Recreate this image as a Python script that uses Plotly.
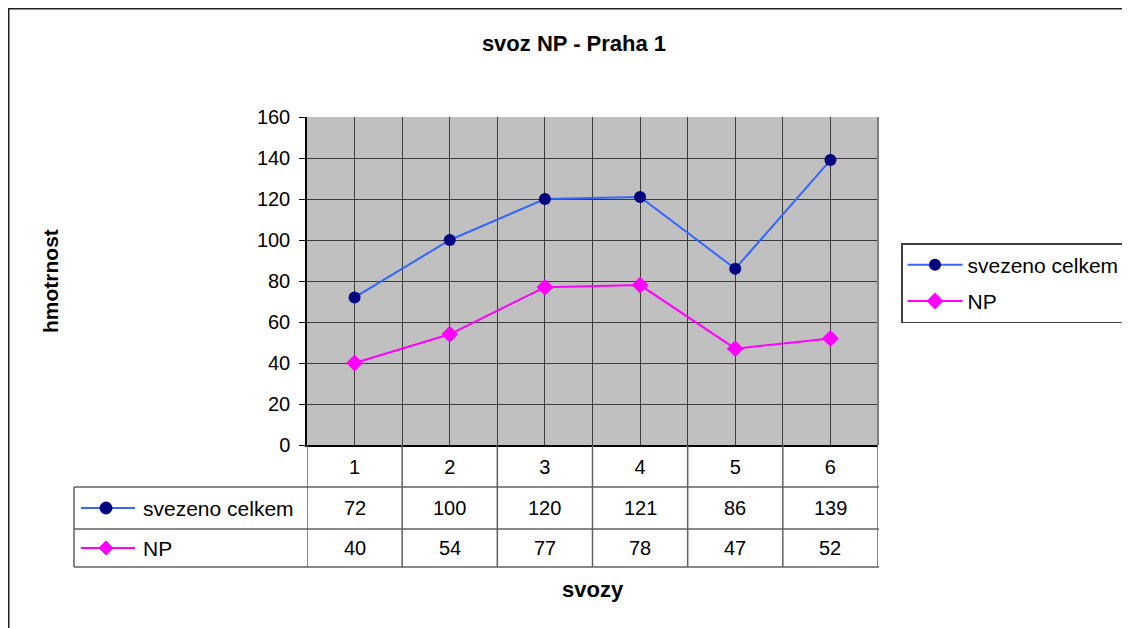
import plotly.graph_objects as go

# ---- data ----
categories = [1, 2, 3, 4, 5, 6]
series_names = ["svezeno celkem", "NP"]
svezeno_celkem = [72, 100, 120, 121, 86, 139]
np_values = [40, 54, 77, 78, 47, 52]
y_ticks = [0, 20, 40, 60, 80, 100, 120, 140, 160]

W, H = 1130, 628
OFF = 8  # page body margin offset
FONT = "Liberation Sans, Arial, sans-serif"

def px(x):
    return (x - OFF) / W

def py(y):
    return 1 - (y - OFF) / H

# plot area in screen pixels
PL, PR, PT, PB = 307, 878, 117, 445

BLUE_LINE = "#3366FF"
NAVY = "#000080"
MAGENTA = "#FF00FF"
GRID = "#3a3a3a"
TABLE = "#606060"

fig = go.Figure()
fig.add_trace(go.Scatter(
    x=categories, y=svezeno_celkem, name=series_names[0], mode="lines+markers",
    line=dict(color=BLUE_LINE, width=2),
    marker=dict(color=NAVY, size=12, symbol="circle"),
    legendgroup="a",
))
fig.add_trace(go.Scatter(
    x=categories, y=np_values, name=series_names[1], mode="lines+markers",
    line=dict(color=MAGENTA, width=2),
    marker=dict(color=MAGENTA, size=13, symbol="diamond"),
    legendgroup="b",
))

shapes = []
annotations = []

# outer chart border
shapes.append(dict(type="rect", xref="paper", yref="paper",
                   x0=px(8.75), x1=px(1160), y0=py(8.75), y1=py(660),
                   line=dict(color="#202020", width=1.5), fillcolor="rgba(0,0,0,0)", layer="below"))

# right border of plot area
shapes.append(dict(type="line", xref="paper", yref="paper",
                   x0=px(PR), x1=px(PR), y0=py(PT), y1=py(PB),
                   line=dict(color="#808080", width=2)))

# data table lines
row_lines = [487, 529, 567]
for ry in row_lines:
    shapes.append(dict(type="line", xref="paper", yref="paper",
                       x0=px(74), x1=px(PR + 1), y0=py(ry), y1=py(ry),
                       line=dict(color=TABLE, width=1.5)))
bounds = [c - 0.5 for c in categories] + [categories[-1] + 0.5]
for b in bounds:
    shapes.append(dict(type="line", xref="x", yref="paper",
                       x0=b, x1=b, y0=py(PB), y1=py(567),
                       line=dict(color=TABLE, width=1.5)))
shapes.append(dict(type="line", xref="paper", yref="paper",
                   x0=px(74), x1=px(74), y0=py(487), y1=py(567),
                   line=dict(color=TABLE, width=1.5)))

# legend keys inside the table
row_centers = [508, 548]
shapes.append(dict(type="line", xref="paper", yref="paper",
                   x0=px(81), x1=px(135), y0=py(row_centers[0]), y1=py(row_centers[0]),
                   line=dict(color=BLUE_LINE, width=2)))
shapes.append(dict(type="circle", xref="paper", yref="paper",
                   x0=px(106 - 6), x1=px(106 + 6), y0=py(row_centers[0] - 6), y1=py(row_centers[0] + 6),
                   line=dict(color=NAVY, width=1), fillcolor=NAVY))
shapes.append(dict(type="line", xref="paper", yref="paper",
                   x0=px(81), x1=px(135), y0=py(row_centers[1]), y1=py(row_centers[1]),
                   line=dict(color=MAGENTA, width=2)))
cx, cy, r = 106, row_centers[1], 7
path = (f"M {px(cx)},{py(cy - r)} L {px(cx + r)},{py(cy)} "
        f"L {px(cx)},{py(cy + r)} L {px(cx - r)},{py(cy)} Z")
shapes.append(dict(type="path", xref="paper", yref="paper", path=path,
                   line=dict(color=MAGENTA, width=1), fillcolor=MAGENTA))

# row labels
for name, yc in zip(series_names, row_centers):
    annotations.append(dict(text=name, xref="paper", yref="paper", x=px(141), y=py(yc),
                            xanchor="left", yanchor="middle", showarrow=False,
                            font=dict(family=FONT, size=21, color="#000")))
# table values
for vals, yc in zip([svezeno_celkem, np_values], row_centers):
    for c, v in zip(categories, vals):
        annotations.append(dict(text=str(v), xref="x", yref="paper", x=c, y=py(yc),
                                xanchor="center", yanchor="middle", showarrow=False,
                                font=dict(family=FONT, size=20, color="#000")))

# axis titles
annotations.append(dict(text="<b>hmotrnost</b>", xref="paper", yref="paper",
                        x=px(50), y=py(281), textangle=-90, showarrow=False,
                        xanchor="center", yanchor="middle",
                        font=dict(family=FONT, size=21, color="#000")))
annotations.append(dict(text="<b>svozy</b>", xref="paper", yref="paper",
                        x=px(593), y=py(589), showarrow=False,
                        xanchor="center", yanchor="middle",
                        font=dict(family=FONT, size=22, color="#000")))

fig.update_layout(
    width=W, height=H,
    margin=dict(l=0, r=0, t=0, b=0, autoexpand=False),
    paper_bgcolor="white",
    plot_bgcolor="#c0c0c0",
    font=dict(family=FONT, size=20, color="#000"),
    title=dict(text="<b>svoz NP - Praha 1</b>", x=px(574), y=py(43),
               xanchor="center", yanchor="middle", xref="paper", yref="paper",
               font=dict(family=FONT, size=22, color="#000")),
    xaxis=dict(domain=[px(PL), px(PR)], range=[0.5, 6.5],
               tickvals=categories, ticktext=[str(c) for c in categories],
               ticks="", showgrid=True, gridcolor=GRID, gridwidth=1,
               minor=dict(tickvals=bounds, showgrid=True, gridcolor=GRID, gridwidth=1, ticks=""),
               showline=True, linecolor="#000", linewidth=2,
               zeroline=False, fixedrange=True,
               ticklabelstandoff=3,
               tickfont=dict(family=FONT, size=20, color="#000")),
    yaxis=dict(domain=[py(PB), py(PT)], range=[0, 160],
               tickvals=y_ticks, ticks="outside", ticklen=6, tickcolor="#000", tickwidth=1,
               showgrid=True, gridcolor=GRID, gridwidth=1,
               showline=True, linecolor="#000", linewidth=1.5,
               zeroline=False, fixedrange=True,
               ticklabelstandoff=5,
               tickfont=dict(family=FONT, size=20, color="#000")),
    showlegend=True,
    legend=dict(x=px(901), y=py(243), xanchor="left", yanchor="top",
                xref="paper", yref="paper",
                bgcolor="white", bordercolor="#404040", borderwidth=1.5,
                font=dict(family=FONT, size=21, color="#000"),
                itemwidth=55, tracegroupgap=6, traceorder="grouped"),
    shapes=shapes,
    annotations=annotations,
)

fig.write_html("out.html")
